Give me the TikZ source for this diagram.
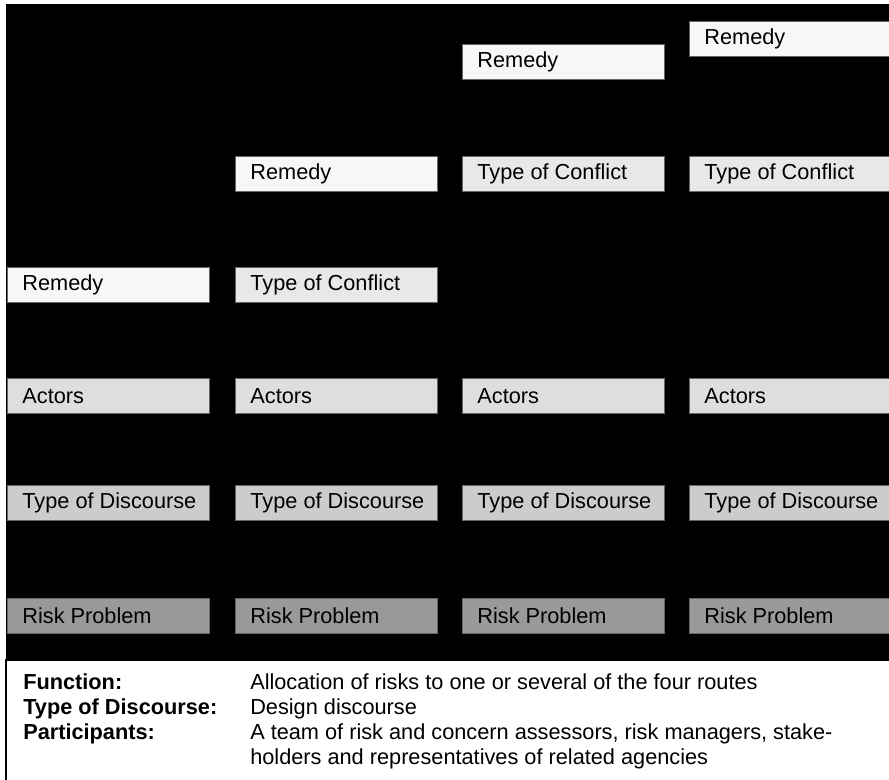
\documentclass[tikz,border=0pt]{standalone}
\usepackage{fontspec}
\setmainfont{Liberation Sans}
\usepackage{tikz}

\definecolor{remedygray}{gray}{0.97}
\definecolor{conflictgray}{gray}{0.91}
\definecolor{actorgray}{gray}{0.87}
\definecolor{discoursegray}{gray}{0.80}
\definecolor{riskgray}{gray}{0.60}
\definecolor{edgegray}{gray}{0.40}

\begin{document}
\begin{tikzpicture}[x=0.75pt,y=-0.75pt,
    stage/.style={draw=edgegray, line width=0.6pt, anchor=north west,
        minimum height=26.25pt, inner xsep=11.25pt, inner ysep=0pt,
        font=\fontsize{16.3}{19.5}\selectfont},
    remedybox/.style={stage, fill=remedygray},
    conflictbox/.style={stage, fill=conflictgray},
    actorbox/.style={stage, fill=actorgray},
    discoursebox/.style={stage, fill=discoursegray},
    riskbox/.style={stage, fill=riskgray},
    infotext/.style={anchor=base west, inner sep=0pt,
        font=\fontsize{16.3}{19.5}\selectfont}]
    \useasboundingbox (0,0) rectangle (889,780);
    \clip (0,0) rectangle (889,780);
    \fill[white] (0,0) rectangle (889,780);
    \fill[black] (6,4) rectangle (895,660);
    \draw[line width=1.5pt, fill=white] (6,660) rectangle (900,790);

    % route 1
    \node[remedybox] (rem1) at (7,267) {\makebox[129pt][l]{Remedy}};
    % route 2
    \node[remedybox] (rem2) at (235,156) {\makebox[129pt][l]{Remedy}};
    \node[conflictbox] (con2) at (235,267) {\makebox[129pt][l]{Type of Conflict}};
    % route 3
    \node[remedybox] (rem3) at (462,44) {\makebox[129pt][l]{Remedy}};
    \node[conflictbox] (con3) at (462,156) {\makebox[129pt][l]{Type of Conflict}};
    % route 4
    \node[remedybox] (rem4) at (689,21) {\makebox[129pt][l]{Remedy}};
    \node[conflictbox] (con4) at (689,156) {\makebox[129pt][l]{Type of Conflict}};

    % common rows
    \foreach \col/\x in {1/7,2/235,3/462,4/689} {
        \node[actorbox] (act\col) at (\x,378) {\makebox[129pt][l]{Actors}};
        \node[discoursebox] (dis\col) at (\x,485) {\makebox[129pt][l]{Type of Discourse}};
        \node[riskbox] (risk\col) at (\x,598) {\makebox[129pt][l]{Risk Problem}};
    }

    % legend
    \node[infotext] (funlabel) at (23,689) {\bfseries Function:};
    \node[infotext] (funtext) at (250,689) {Allocation of risks to one or several of the four routes};
    \node[infotext] (dislabel) at (23,714) {\bfseries Type of Discourse:};
    \node[infotext] (distext) at (250,714) {Design discourse};
    \node[infotext] (parlabel) at (23,739) {\bfseries Participants:};
    \node[infotext] (partext) at (250,739) {A team of risk and concern assessors, risk managers, stake-};
    \node[infotext] (partext2) at (250,764) {holders and representatives of related agencies};
\end{tikzpicture}
\end{document}
